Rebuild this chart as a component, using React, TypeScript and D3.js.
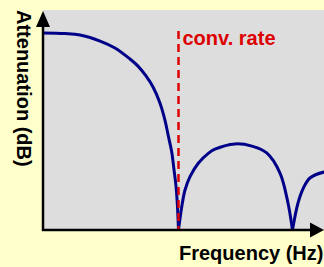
import React from "react";
import * as d3 from "d3";

// frequency in units of the conversion rate, attenuation normalised to the passband level
const lobe1Freq = [0, 0.162, 0.273, 0.421, 0.531, 0.642, 0.701, 0.76, 0.812, 0.863, 0.9, 0.925, 0.95, 0.967, 0.982, 0.991, 1.0];
const lobe1Att = [1.0, 0.997, 0.99, 0.959, 0.924, 0.868, 0.832, 0.782, 0.726, 0.645, 0.558, 0.477, 0.396, 0.305, 0.22, 0.136, 0.0];

const lobe2Freq = [1.0, 1.024, 1.048, 1.085, 1.146, 1.22, 1.269, 1.417, 1.542, 1.651, 1.749, 1.808, 1.841];
const lobe2Att = [0, 0.118, 0.203, 0.271, 0.339, 0.389, 0.41, 0.437, 0.426, 0.391, 0.289, 0.137, 0];

const lobe3Freq = [1.841, 1.882, 1.921, 1.97, 2.074, 2.192];
const lobe3Att = [0, 0.137, 0.212, 0.264, 0.294, 0.3];

const convRate = 1.0;

const W = 324;
const H = 267;
const left = 43;
const right = 324;
const top = 10;
const bottom = 230;

const font = "'Liberation Sans', Arial, sans-serif";
const navy = "#000088";
const red = "#dd0000";

export default function App() {
  const x = d3.scaleLinear().domain([0, 1]).range([left, 178.5]);
  const y = d3.scaleLinear().domain([0, 1]).range([bottom, 33]);

  const line = d3
    .line<[number, number]>()
    .x((d) => x(d[0]))
    .y((d) => y(d[1]))
    .curve(d3.curveCatmullRom.alpha(0.5));

  const lobes = [
    [lobe1Freq, lobe1Att],
    [lobe2Freq, lobe2Att],
    [lobe3Freq, lobe3Att],
  ].map(([f, a]) => f.map((v, i) => [v, a[i]] as [number, number]));

  return (
    <svg
      width={W}
      height={H}
      style={{ position: "absolute", left: 0, top: 0, display: "block" }}
    >
      <defs>
        <clipPath id="plot">
          <rect x={left} y={top} width={right - left} height={bottom - top} />
        </clipPath>
      </defs>
      <rect x={0} y={0} width={W} height={H} fill="#ffffcc" />
      <rect x={left} y={top} width={right - left} height={bottom - top} fill="#dddddd" />

      <g clipPath="url(#plot)">
        {lobes.map((pts, i) => (
          <path key={i} d={line(pts) || ""} fill="none" stroke={navy} strokeWidth={3} strokeLinejoin="round" />
        ))}
      </g>

      <line
        x1={x(convRate)}
        x2={x(convRate)}
        y1={31}
        y2={bottom}
        stroke={red}
        strokeWidth={2.5}
        strokeDasharray="8,5"
      />
      <text x={x(convRate) + 4} y={45} fill={red} fontFamily={font} fontWeight="bold" fontSize={20}>
        conv. rate
      </text>

      {/* axes */}
      <line x1={left} x2={left} y1={bottom + 1} y2={24} stroke="#000" strokeWidth={2.5} />
      <path d={`M${left},11 L${left + 7},27 L${left - 7},27 Z`} fill="#000" />
      <line x1={left - 1} x2={312} y1={bottom} y2={bottom} stroke="#000" strokeWidth={2.5} />
      <path d={`M${right},${bottom} L${310},${bottom - 7.5} L${310},${bottom + 7.5} Z`} fill="#000" />

      <text x={179} y={260} fontFamily={font} fontWeight="bold" fontSize={20} fill="#000">
        Frequency (Hz)
      </text>
      <text
        transform={`translate(17,10) rotate(90)`}
        fontFamily={font}
        fontWeight="bold"
        fontSize={20}
        fill="#000"
      >
        Attenuation (dB)
      </text>
    </svg>
  );
}
